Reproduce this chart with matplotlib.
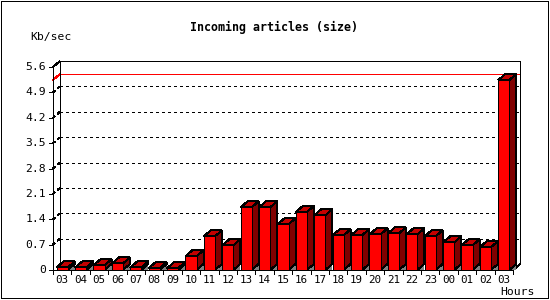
#!/usr/bin/env python3
"""
Incoming articles (size) -- hourly 3D bar chart, gd-style.
"""

import matplotlib
matplotlib.use("Agg")
import matplotlib.pyplot as plt
from matplotlib.patches import Polygon, Rectangle

# ============================================================================
# 1. Data
# ============================================================================

HOURS = ['03', '04', '05', '06', '07', '08', '09', '10', '11', '12', '13', '14',
         '15', '16', '17', '18', '19', '20', '21', '22', '23', '00', '01', '02', '03']
KBSEC = [0.07, 0.07, 0.13, 0.18, 0.07, 0.05, 0.05, 0.38, 0.93, 0.68, 1.73, 1.73,
         1.26, 1.60, 1.51, 0.96, 0.96, 0.98, 1.01, 0.98, 0.93, 0.76, 0.68, 0.63, 5.24]
YTICKS = [0, 0.7, 1.4, 2.1, 2.8, 3.5, 4.2, 4.9, 5.6]
YTICK_LABELS = ['0', '0.7', '1.4', '2.1', '2.8', '3.5', '4.2', '4.9', '5.6']

# ============================================================================
# 2. Figure / axes geometry
# ============================================================================

plt.rcParams['lines.scale_dashes'] = False

W, H, DPI = 550, 300, 100
fig = plt.figure(figsize=(W / DPI, H / DPI), dpi=DPI)
fig.patch.set_facecolor('white')

# front plane: x 53..513 px, y(0)=270 px, y(5.6)=67 px
ax = fig.add_axes([53 / W, (H - 270) / H, 460 / W, 203 / H])
ax.set_xlim(0, len(HOURS))
ax.set_ylim(0, YTICKS[-1])
ax.axis('off')

# pixel -> data conversion
PX_X = len(HOURS) / 460.0
PX_Y = YTICKS[-1] / 203.0
DX = 7 * PX_X      # 3d depth, right
DY = 6 * PX_Y      # 3d depth, up
LW = 0.7           # ~1 px line
DOT = (0, (2.0, 2.3))
N = len(HOURS)

FONT = 'DejaVu Sans Mono'
RED, TOP, SIDE, SHADOW = '#ff0000', '#c40000', '#800000', '#808080'

# ============================================================================
# 3. Frame, grid, max line
# ============================================================================

def line(xs, ys, **kw):
    kw.setdefault('color', 'black')
    kw.setdefault('lw', LW)
    ax.plot(xs, ys, clip_on=False, antialiased=False, solid_capstyle='butt', **kw)

# dotted grid (wall diagonal + back plane)
for v in YTICKS[1:-1]:
    line([0, DX], [v, v + DY], ls=DOT, zorder=1)
    line([DX, N + DX], [v + DY, v + DY], ls=DOT, zorder=1)

# max value line
vmax = max(KBSEC)
line([0, DX], [vmax, vmax + DY], color=RED, zorder=1)
line([DX, N + DX], [vmax + DY, vmax + DY], color=RED, zorder=1)

# back plane + walls
top = YTICKS[-1]
line([0, DX], [top, top + DY], zorder=2)
line([DX, N + DX], [top + DY, top + DY], zorder=2)
line([N + DX, N + DX], [DY, top + DY], zorder=2)
line([N, N + DX], [0, DY], zorder=2)
line([DX, DX], [DY, top + DY], zorder=2)
line([0, 0], [0, top], zorder=6)
line([0, N], [0, 0], zorder=6)

# y ticks and labels
for v, lab in zip(YTICKS, YTICK_LABELS):
    line([-4 * PX_X, 0], [v, v], zorder=6)
    ax.annotate(lab, xy=(0, v), xytext=(-7, 0), textcoords='offset pixels',
                ha='right', va='center', fontsize=8.2, family=FONT,
                annotation_clip=False)

# x ticks and labels
for i in range(N + 1):
    line([i, i], [0, -4 * PX_Y], zorder=6)
for i, lab in enumerate(HOURS):
    ax.annotate(lab, xy=(i + 0.5, 0), xytext=(0, -10), textcoords='offset pixels',
                ha='center', va='center', fontsize=7.8, family=FONT,
                annotation_clip=False)

# ============================================================================
# 4. Bars
# ============================================================================

BW = 0.6
for i, v in enumerate(KBSEC):
    x0 = i + (1 - BW) / 2
    x1 = x0 + BW
    z = 3 + i * 0.01
    ax.add_patch(Polygon([(x1, 0), (x1 + DX, 0), (x1 + DX, DY)], closed=True,
                         facecolor=SHADOW, edgecolor='none', clip_on=False,
                         antialiased=False, zorder=z))
    ax.add_patch(Polygon([(x1, 0), (x1 + DX, DY), (x1 + DX, v + DY), (x1, v)],
                         closed=True, facecolor=SIDE, edgecolor='black', lw=LW,
                         clip_on=False, antialiased=False, zorder=z))
    ax.add_patch(Polygon([(x0, v), (x0 + DX, v + DY), (x1 + DX, v + DY), (x1, v)],
                         closed=True, facecolor=TOP, edgecolor='black', lw=LW,
                         clip_on=False, antialiased=False, zorder=z))
    ax.add_patch(Rectangle((x0, 0), BW, v, facecolor=RED, edgecolor='black',
                           lw=LW, clip_on=False, antialiased=False, zorder=z))

# ============================================================================
# 5. Texts and outer border
# ============================================================================

fig.text(274 / W, 1 - 27 / H, 'Incoming articles (size)', ha='center', va='center',
         fontsize=8.4, fontweight='bold', family=FONT)
fig.text(30 / W, 1 - 37 / H, 'Kb/sec', ha='left', va='center',
         fontsize=8.2, family=FONT)
fig.text(535 / W, 1 - 292 / H, 'Hours', ha='right', va='center',
         fontsize=8.2, family=FONT)

fig.add_artist(Rectangle((0.5 / W, 2.5 / H), 547 / W, 297 / H,
                         transform=fig.transFigure, fill=False,
                         edgecolor='black', lw=LW, antialiased=False))

fig.savefig('out.png', dpi=DPI, facecolor='white')
